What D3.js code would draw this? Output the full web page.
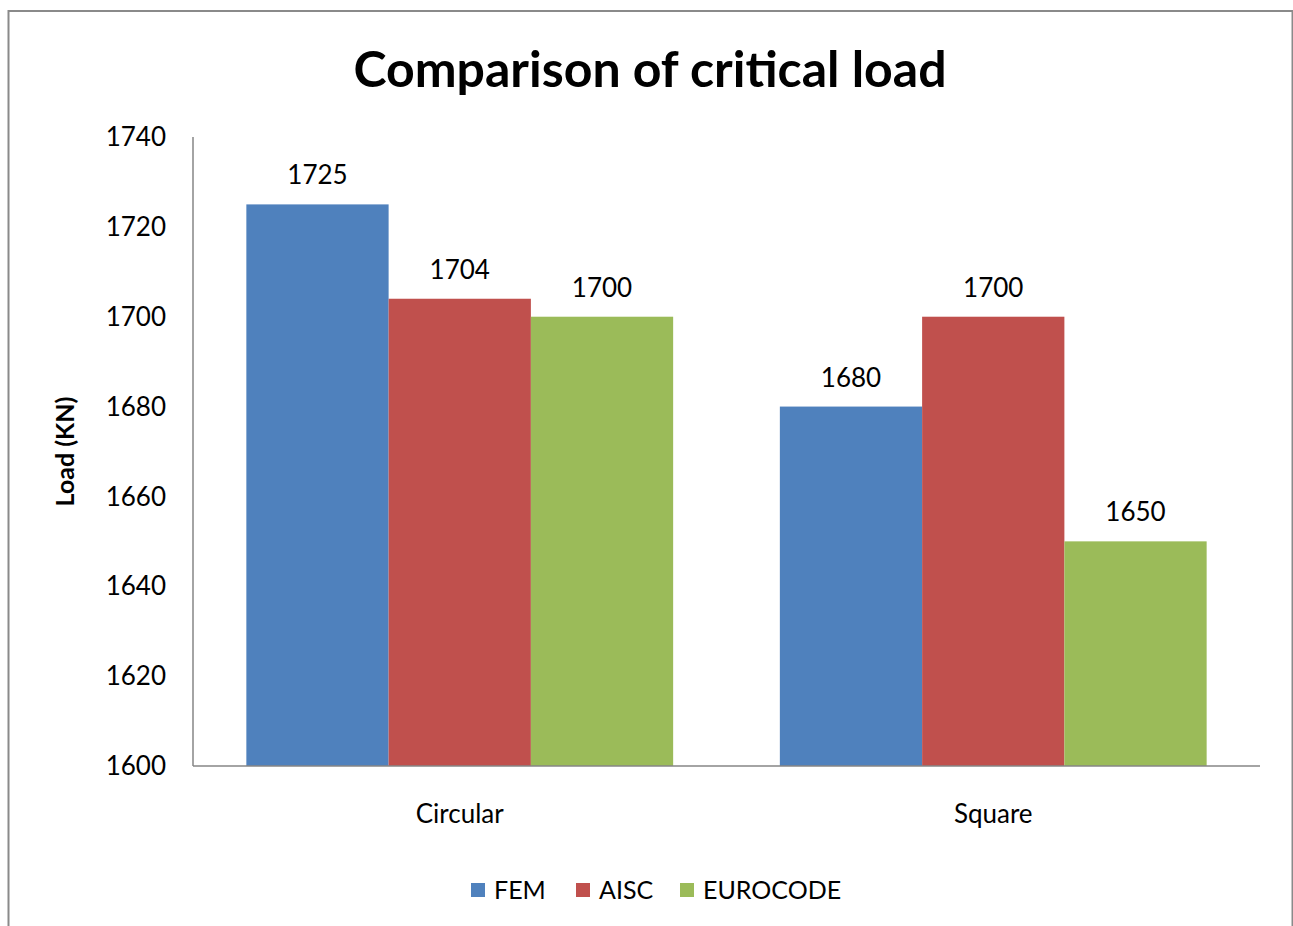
<!DOCTYPE html>
<html>
<head>
<meta charset="utf-8">
<script src="https://cdn.jsdelivr.net/npm/d3@7"></script>
<style>
  body { margin: 0; background: #fff; }
  text { font-family: Lato, "Open Sans", sans-serif; fill: #000; }
</style>
</head>
<body>
<script>
const categories = ["Circular", "Square"];
const seriesNames = ["FEM", "AISC", "EUROCODE"];
const fem = [1725, 1680];
const aisc = [1704, 1700];
const eurocode = [1700, 1650];
const yTicks = [1600, 1620, 1640, 1660, 1680, 1700, 1720, 1740];
const colors = ["#4F81BD", "#C0504D", "#9BBB59"];

const values = [fem, aisc, eurocode];
const rows = categories.map((c, i) => ({
    category: c,
    bars: seriesNames.map((s, j) => ({ series: s, value: values[j][i], color: colors[j] }))
}));

const svg = d3.select('body').append('svg')
    .attr('width', 1293)
    .attr('height', 926)

// outer frame
svg.append('rect')
    .attr('x', 8.5).attr('y', 11)
    .attr('width', 1284).attr('height', 925)
    .attr('fill', 'none')
    .attr('stroke', '#8a8a8a')
    .attr('stroke-width', 2)

const plotLeft = 193, plotRight = 1260, plotTop = 137, plotBottom = 766;

const x = d3.scaleBand().domain(categories).range([plotLeft, plotRight]).paddingInner(0.2).paddingOuter(0.1);
const x1 = d3.scaleBand().domain(seriesNames).range([0, x.bandwidth()]);
const y = d3.scaleLinear().domain([1600, 1740]).range([plotBottom, plotTop]);

// y axis labels
svg.selectAll('.ytick')
    .data(yTicks)
    .enter()
    .append('text')
    .attr('class', 'ytick')
    .attr('x', 166)
    .attr('y', d => y(d))
    .attr('dy', '0.35em')
    .attr('text-anchor', 'end')
    .style('font-size', '26px')
    .text(d => d)

svg.append('text')
    .attr('transform', `translate(74,${(plotTop + plotBottom) / 2}) rotate(-90)`)
    .attr('text-anchor', 'middle')
    .style('font-size', '25px')
    .style('font-weight', 'bold')
    .text('Load (KN)')

// bars
const groups = svg.selectAll('.group')
    .data(rows)
    .enter()
    .append('g')
    .attr('transform', d => `translate(${x(d.category)},0)`)

groups.selectAll('rect')
    .data(d => d.bars)
    .enter()
    .append('rect')
    .attr('x', d => x1(d.series))
    .attr('y', d => y(d.value))
    .attr('width', x1.bandwidth())
    .attr('height', d => plotBottom - y(d.value))
    .attr('fill', d => d.color)

groups.selectAll('.label')
    .data(d => d.bars)
    .enter()
    .append('text')
    .attr('class', 'label')
    .attr('x', d => x1(d.series) + x1.bandwidth() / 2)
    .attr('y', d => y(d.value) - 20)
    .attr('text-anchor', 'middle')
    .style('font-size', '26px')
    .text(d => d.value)

// axes lines
svg.append('line')
    .attr('x1', plotLeft).attr('x2', plotLeft)
    .attr('y1', plotTop).attr('y2', plotBottom)
    .attr('stroke', '#868686').attr('stroke-width', 1.5)
svg.append('line')
    .attr('x1', plotLeft).attr('x2', plotRight)
    .attr('y1', plotBottom).attr('y2', plotBottom)
    .attr('stroke', '#868686').attr('stroke-width', 1.5)

// category labels
svg.selectAll('.xlabel')
    .data(categories)
    .enter()
    .append('text')
    .attr('x', d => x(d) + x.bandwidth() / 2)
    .attr('y', 823)
    .attr('text-anchor', 'middle')
    .style('font-size', '26px')
    .text(d => d)

// title
svg.append('text')
    .attr('x', 650)
    .attr('y', 87)
    .attr('text-anchor', 'middle')
    .style('font-size', '50px')
    .style('font-weight', 'bold')
    .text('Comparison of critical load')

// legend
const legendX = [471, 576, 680];
const legend = svg.selectAll('.legend')
    .data(seriesNames)
    .enter()
    .append('g')
    .attr('transform', (d, i) => `translate(${legendX[i]},883)`)
legend.append('rect')
    .attr('width', 14).attr('height', 14)
    .attr('fill', (d, i) => colors[i])
legend.append('text')
    .attr('x', 23).attr('y', 7)
    .attr('dy', '0.35em')
    .style('font-size', '25px')
    .text(d => d)
</script>
</body>
</html>
